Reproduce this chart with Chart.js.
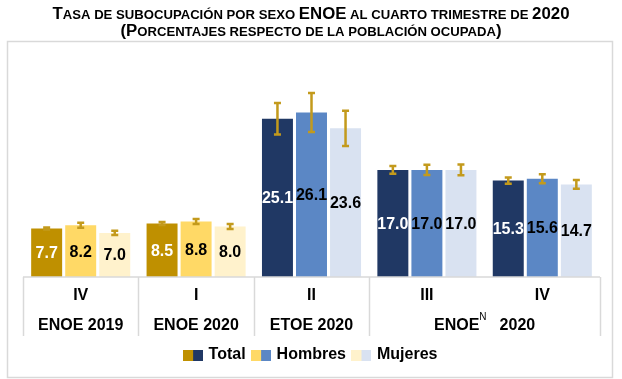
<!DOCTYPE html>
<html>
<head>
<meta charset="utf-8">
<script src="https://cdn.jsdelivr.net/npm/chart.js@4.4.1/dist/chart.umd.min.js"></script>
<style>
    html, body { margin: 0; padding: 0; background: #fff; }
    #wrap { width: 622px; height: 379px; position: relative; }
</style>
</head>
<body>
<div id="wrap"><canvas id="subChart"></canvas></div>
<script>
// Quarters and the survey each one belongs to
const quarters = ['IV', 'I', 'II', 'III', 'IV'];
const surveyNames = ['ENOE', 'ENOE', 'ETOE', 'ENOE'];
const surveySup = ['', '', '', 'N'];
const surveyYears = ['2019', '2020', '2020', '2020'];
const surveySpan = [1, 1, 1, 2]; // how many quarters each survey covers

// Rates (%)
const totalRate = [7.7, 8.5, 25.1, 17.0, 15.3];
const menRate = [8.2, 8.8, 26.1, 17.0, 15.6];
const womenRate = [7.0, 8.0, 23.6, 17.0, 14.7];

// Confidence interval half-widths
const totalErr = [0.15, 0.25, 2.5, 0.6, 0.5];
const menErr = [0.4, 0.4, 3.1, 0.8, 0.7];
const womenErr = [0.35, 0.4, 2.8, 0.85, 0.7];

const seriesNames = ['Total', 'Hombres', 'Mujeres'];

// Gold palette for ENOE 2019 / I-2020, blue palette afterwards
const goldColors = ['#BF9000', '#FFD966', '#FFF2CC'];
const blueColors = ['#203864', '#5B87C5', '#D9E2F1'];
const errColor = '#C39A1C';
const gridGray = '#D9D9D9';

const palette = (s) => quarters.map((q, i) => i < 2 ? goldColors[s] : blueColors[s]);

// Two-colour swatch used in the legend
function swatch(c1, c2) {
    const c = document.createElement('canvas');
    c.width = 20;
    c.height = 11;
    const g = c.getContext('2d');
    g.fillStyle = c1;
    g.fillRect(0, 0, 10, 11);
    g.fillStyle = c2;
    g.fillRect(10, 0, 10, 11);
    return c;
}

// Title drawn with mixed sizes to imitate small caps
const titleLines = [
    [['T', 16], ['ASA DE SUBOCUPACIÓN POR SEXO ', 12.5], ['ENOE', 16], [' AL CUARTO TRIMESTRE DE ', 12.5], ['2020', 16]],
    [['(P', 16], ['ORCENTAJES RESPECTO DE LA POBLACIÓN OCUPADA', 12.5], [')', 16]]
];

const titlePlugin = {
    id: 'titlePlugin',
    beforeDraw(chart) {
        const ctx = chart.ctx;
        ctx.save();
        // outer frame
        ctx.strokeStyle = gridGray;
        ctx.lineWidth = 1.5;
        ctx.strokeRect(7.5, 41.5, 605, 336);

        ctx.fillStyle = '#000';
        ctx.textBaseline = 'alphabetic';
        const baselines = [18.5, 35.5];
        const stretch = 1.05;
        titleLines.forEach((parts, li) => {
            let w = 0;
            parts.forEach(p => {
                ctx.font = 'bold ' + p[1] + 'px "Liberation Sans", Arial, sans-serif';
                w += ctx.measureText(p[0]).width;
            });
            ctx.save();
            ctx.translate(311 - w * stretch / 2, baselines[li]);
            ctx.scale(stretch, 1);
            let x = 0;
            parts.forEach(p => {
                ctx.font = 'bold ' + p[1] + 'px "Liberation Sans", Arial, sans-serif';
                ctx.fillText(p[0], x, 0);
                x += ctx.measureText(p[0]).width;
            });
            ctx.restore();
        });
        ctx.restore();
    }
};

// Error bars and value labels
const barExtras = {
    id: 'barExtras',
    afterDatasetsDraw(chart) {
        const ctx = chart.ctx;
        const yScale = chart.scales.y;
        const errs = [totalErr, menErr, womenErr];
        ctx.save();
        chart.data.datasets.forEach((ds, di) => {
            const meta = chart.getDatasetMeta(di);
            meta.data.forEach((bar, i) => {
                const v = ds.data[i];
                // value label in the middle of the bar
                ctx.font = 'bold 16px "Liberation Sans", Arial, sans-serif';
                ctx.textAlign = 'center';
                ctx.textBaseline = 'middle';
                ctx.fillStyle = di === 0 ? '#fff' : '#000';
                ctx.fillText(v.toFixed(1), bar.x, (bar.y + bar.base) / 2 + 1);

                // error bar
                const top = yScale.getPixelForValue(v + errs[di][i]);
                const bot = yScale.getPixelForValue(v - errs[di][i]);
                ctx.strokeStyle = errColor;
                ctx.lineWidth = 2.5;
                ctx.beginPath();
                ctx.moveTo(bar.x, top);
                ctx.lineTo(bar.x, bot);
                ctx.moveTo(bar.x - 3.5, top);
                ctx.lineTo(bar.x + 3.5, top);
                ctx.moveTo(bar.x - 3.5, bot);
                ctx.lineTo(bar.x + 3.5, bot);
                ctx.stroke();
            });
        });
        ctx.restore();
    }
};

// Table-like category axis under the bars
const axisTable = {
    id: 'axisTable',
    afterDraw(chart) {
        const ctx = chart.ctx;
        const xScale = chart.scales.x;
        const area = chart.chartArea;
        const step = (area.right - area.left) / quarters.length;
        const yTop = area.bottom;
        const yBottom = yTop + 59;
        ctx.save();
        ctx.strokeStyle = gridGray;
        ctx.lineWidth = 1.5;
        ctx.beginPath();
        ctx.moveTo(area.left, yTop);
        ctx.lineTo(area.right, yTop);
        // separators at the edges of each survey block
        let idx = 0;
        const edges = [0];
        surveySpan.forEach(n => { idx += n; edges.push(idx); });
        edges.forEach(e => {
            const x = Math.round(area.left + e * step) + 0.5;
            ctx.moveTo(x, yTop);
            ctx.lineTo(x, yBottom);
        });
        ctx.stroke();

        ctx.fillStyle = '#000';
        ctx.textBaseline = 'middle';
        ctx.font = 'bold 16px "Liberation Sans", Arial, sans-serif';
        ctx.textAlign = 'center';
        quarters.forEach((q, i) => {
            ctx.fillText(q, xScale.getPixelForValue(i), yTop + 19);
        });

        // survey row
        let start = 0;
        surveyNames.forEach((name, s) => {
            const cx = area.left + (start + surveySpan[s] / 2) * step;
            const rowY = yTop + 49;
            const big = 'bold 16px "Liberation Sans", Arial, sans-serif';
            const small = '10px "Liberation Sans", Arial, sans-serif';
            if (surveySup[s]) {
                ctx.font = big;
                const w1 = ctx.measureText(name).width;
                const w3 = ctx.measureText(surveyYears[s]).width;
                ctx.font = small;
                const w2 = ctx.measureText(surveySup[s]).width;
                const gap = 13;
                let x = cx - (w1 + w2 + gap + w3) / 2;
                ctx.textAlign = 'left';
                ctx.font = big;
                ctx.fillText(name, x, rowY);
                x += w1;
                ctx.font = small;
                ctx.fillText(surveySup[s], x, rowY - 9);
                x += w2 + gap;
                ctx.font = big;
                ctx.fillText(surveyYears[s], x, rowY);
            } else {
                ctx.textAlign = 'center';
                ctx.font = big;
                ctx.fillText(name + ' ' + surveyYears[s], cx, rowY);
            }
            start += surveySpan[s];
        });
        ctx.restore();
    }
};

const ctx = document.getElementById('subChart').getContext('2d');

new Chart(ctx, {
    type: 'bar',
    data: {
        labels: quarters,
        datasets: [
            { label: seriesNames[0], data: totalRate, backgroundColor: palette(0) },
            { label: seriesNames[1], data: menRate, backgroundColor: palette(1) },
            { label: seriesNames[2], data: womenRate, backgroundColor: palette(2) }
        ]
    },
    options: {
        responsive: true,
        maintainAspectRatio: false,
        animation: false,
        devicePixelRatio: 1,
        layout: {
            padding: { top: 88, left: 23, right: 22, bottom: 6 }
        },
        datasets: {
            bar: { categoryPercentage: 0.885, barPercentage: 0.91 }
        },
        scales: {
            x: {
                grid: { display: false },
                border: { display: false },
                ticks: { display: false },
                afterFit: (scale) => { scale.height = 62; }
            },
            y: {
                display: false,
                min: 0,
                max: 30
            }
        },
        plugins: {
            tooltip: { enabled: false },
            legend: {
                position: 'bottom',
                labels: {
                    usePointStyle: true,
                    pointStyleWidth: 15,
                    boxHeight: 11,
                    padding: 8,
                    color: '#000',
                    font: { family: '"Liberation Sans", Arial, sans-serif', size: 16, weight: 'bold' },
                    generateLabels: () => seriesNames.map((name, i) => ({
                        text: name,
                        pointStyle: swatch(goldColors[i], blueColors[i]),
                        fillStyle: goldColors[i],
                        strokeStyle: 'transparent',
                        lineWidth: 0,
                        hidden: false,
                        datasetIndex: i
                    }))
                }
            }
        }
    },
    plugins: [titlePlugin, barExtras, axisTable]
});
</script>
</body>
</html>
